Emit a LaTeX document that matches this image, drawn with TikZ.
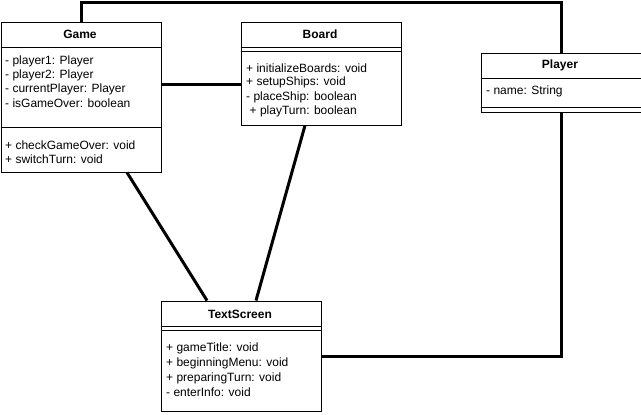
\documentclass[tikz,border=0pt]{standalone}
\usepackage{fontspec}
\setmainfont{Liberation Sans}
\usepackage{tikz}

\tikzset{
  classbox/.style={draw, line width=1pt, minimum width=160pt, anchor=north west, inner sep=0pt},
  classname/.style={font=\fontsize{12}{14}\selectfont\bfseries, inner sep=0pt},
  member/.style={anchor=west, inner sep=0pt},
  assoc/.style={line width=3pt}
}

\begin{document}
\begin{tikzpicture}[x=1pt, y=-1pt, font=\fontsize{12}{14}\selectfont]
  \useasboundingbox (0,0) rectangle (641,415);

  % class boxes
  \node[classbox, minimum height=150pt] (game) at (0.5,21.5) {};
  \node[classbox, minimum height=103pt] (board) at (240.5,21.5) {};
  \node[classbox, minimum height=59pt] (player) at (480.5,52.5) {};
  \node[classbox, minimum height=110pt] (screen) at (160.5,300.5) {};

  % compartments
  \draw[line width=1pt] (0.5,47.5) -- (160.5,47.5);
  \draw[line width=1pt] (0.5,127.5) -- (160.5,127.5);

  \draw[line width=1pt] (240.5,47.5) -- (400.5,47.5);
  \draw[line width=1pt] (240.5,51) -- (400.5,51);

  \draw[line width=1pt] (480.5,78) -- (640.5,78);
  \draw[line width=1pt] (480.5,107) -- (640.5,107);

  \draw[line width=1pt] (160.5,326.5) -- (320.5,326.5);
  \draw[line width=1pt] (160.5,330) -- (320.5,330);

  % Game
  \node[classname] (gametitle) at (80,34.5) {Game};
  \node[member] (g1) at (5,61) {- player1: Player};
  \node[member] (g2) at (5,75) {- player2: Player};
  \node[member] (g3) at (5,89) {- currentPlayer: Player};
  \node[member] (g4) at (5,103) {- isGameOver: boolean};
  \node[member] (g5) at (5,145) {+ checkGameOver: void};
  \node[member] (g6) at (5,159) {+ switchTurn: void};

  % Board
  \node[classname] (boardtitle) at (320,34.5) {Board};
  \node[member] (b1) at (246,68.5) {+ initializeBoards: void};
  \node[member] (b2) at (246,82.5) {+ setupShips: void};
  \node[member] (b3) at (246,97) {- placeShip: boolean};
  \node[member] (b4) at (249.5,111) {+ playTurn: boolean};

  % Player
  \node[classname] (playertitle) at (560,65.5) {Player};
  \node[member] (p1) at (486,91) {- name: String};

  % TextScreen
  \node[classname] (screentitle) at (240,314) {TextScreen};
  \node[member] (s1) at (166,348) {+ gameTitle: void};
  \node[member] (s2) at (166,363) {+ beginningMenu: void};
  \node[member] (s3) at (166,378) {+ preparingTurn: void};
  \node[member] (s4) at (166,392.5) {- enterInfo: void};

  % associations
  \coordinate (gbrow) at (0,84);
  \coordinate (gsx) at (127,0);
  \coordinate (sgx) at (207,0);
  \coordinate (bsx) at (305,0);
  \coordinate (sbx) at (256,0);

  \draw[assoc] (game.north) -- ++(0,-19) -| (player.north);
  \draw[assoc] (game.east |- gbrow) -- (board.west |- gbrow);
  \draw[assoc] (game.south -| gsx) -- (screen.north -| sgx);
  \draw[assoc] (board.south -| bsx) -- (screen.north -| sbx);
  \draw[assoc] (player.south) |- (screen.east);

\end{tikzpicture}
\end{document}
